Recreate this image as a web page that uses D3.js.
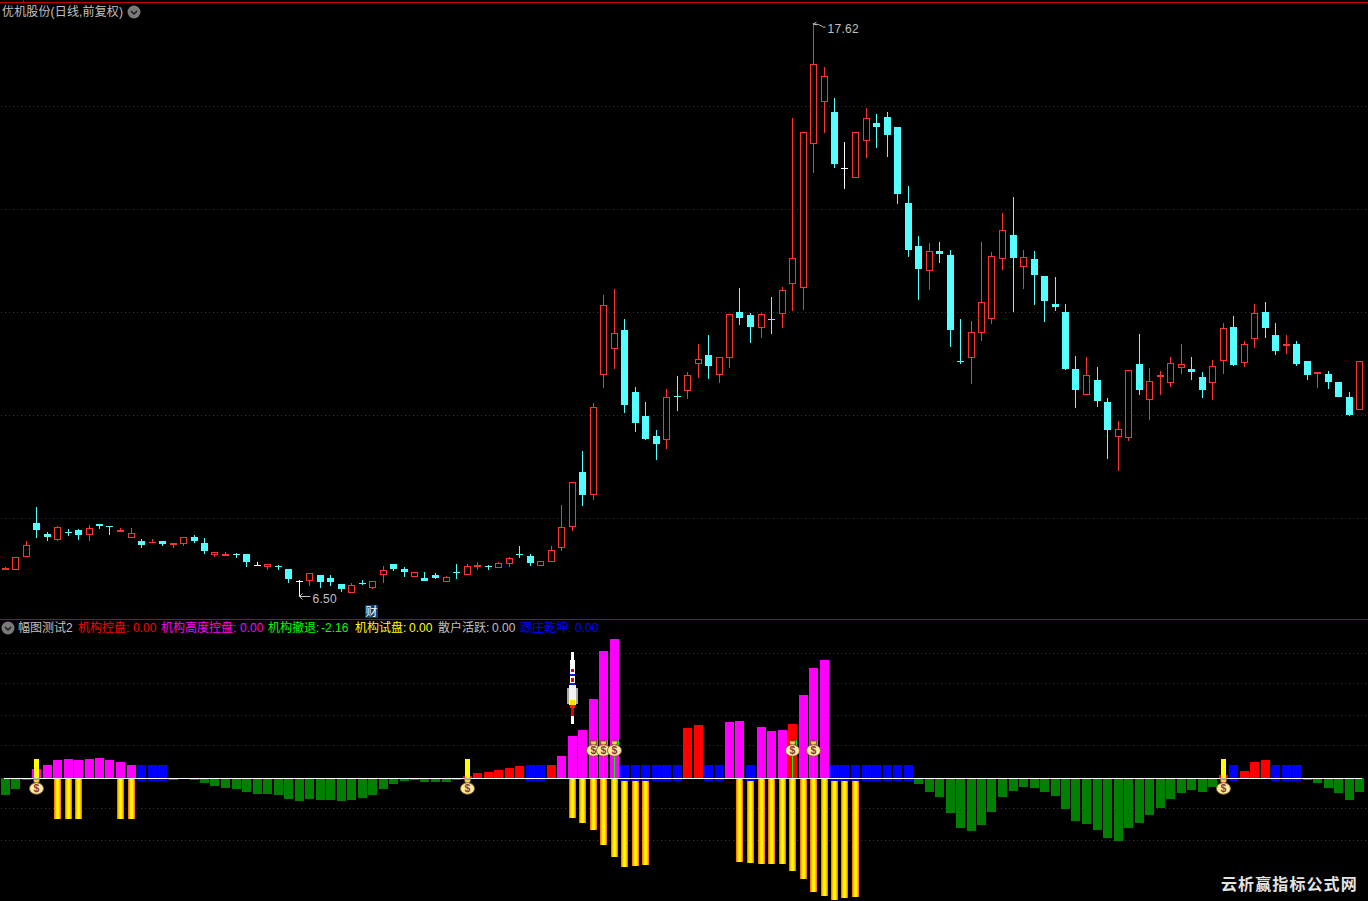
<!DOCTYPE html>
<html lang="zh">
<head>
<meta charset="utf-8">
<title>优机股份</title>
<script src="https://cdn.jsdelivr.net/npm/d3@7"></script>
<style>
html,body{margin:0;padding:0;background:#000;overflow:hidden}
svg{display:block}
text{font-family:"Liberation Sans","Noto Sans CJK SC",sans-serif;font-size:12px}
</style>
</head>
<body>
<div id="chart"></div>
<script>
// ---------- price data ----------
const opens=[7.01,7.01,7.27,7.92,7.71,7.60,7.76,7.79,7.69,7.91,
7.87,7.75,7.64,7.58,7.54,7.58,7.50,7.52,7.65,7.54,
7.30,7.28,7.33,7.32,7.11,7.07,7.10,7.03,6.80,6.80,
6.92,6.86,6.74,6.57,6.77,6.67,6.92,7.13,7.03,6.88,
6.86,6.92,6.78,6.97,6.92,7.07,7.10,7.05,7.13,7.33,
7.28,7.09,7.17,7.44,7.85,8.91,8.47,10.80,11.30,11.67,
10.46,10.00,9.61,9.53,10.38,10.48,11.01,11.18,10.80,11.13,
12.01,11.96,11.71,11.89,11.98,12.56,12.48,15.27,16.09,15.89,
14.81,14.61,15.33,15.68,15.80,15.60,14.13,13.30,12.81,13.20,
13.12,11.06,11.13,11.61,11.88,13.04,13.51,12.89,13.04,12.72,
12.17,12.01,10.91,10.41,10.70,10.27,9.59,9.57,11.01,10.31,
10.76,10.64,10.93,10.91,10.76,10.64,11.07,11.73,11.03,11.49,
12.01,11.57,11.36,11.40,11.07,10.82,10.82,10.66,10.37,10.12];
const closes=[7.05,7.27,7.50,7.79,7.65,7.85,7.75,7.69,7.83,7.87,
7.85,7.79,7.73,7.50,7.55,7.52,7.54,7.65,7.58,7.38,
7.36,7.32,7.32,7.17,7.11,7.13,7.09,6.84,6.80,6.96,
6.78,6.78,6.65,6.72,6.76,6.80,7.01,7.03,6.98,6.98,
6.80,6.86,6.88,6.96,7.09,7.11,7.09,7.15,7.25,7.32,
7.15,7.19,7.40,7.85,8.72,8.47,10.18,12.15,11.61,10.21,
9.86,9.55,9.46,10.37,10.37,10.80,11.11,10.97,11.15,11.97,
11.90,11.73,11.98,11.88,12.44,13.06,15.50,16.83,16.59,14.88,
14.81,15.50,15.78,15.60,15.45,14.30,13.22,12.85,13.20,13.14,
11.67,11.05,11.63,12.21,13.10,13.60,13.06,13.08,12.73,12.23,
12.11,10.91,10.50,10.80,10.29,9.73,9.75,10.89,10.50,10.68,
10.80,11.03,11.01,10.85,10.50,10.97,11.71,10.99,11.40,12.00,
11.70,11.26,11.40,11.01,10.80,10.86,10.66,10.37,10.02,11.07];
const highs=[7.07,7.27,7.58,8.24,7.75,7.87,7.81,7.81,7.89,7.91,
7.87,7.83,7.83,7.62,7.62,7.58,7.54,7.65,7.69,7.64,
7.36,7.36,7.34,7.32,7.17,7.13,7.11,7.03,6.82,6.96,
6.92,6.92,6.74,6.76,6.82,6.80,7.09,7.13,7.07,6.98,
6.98,6.96,6.90,7.13,7.13,7.17,7.11,7.17,7.27,7.48,
7.32,7.19,7.48,8.27,8.72,9.32,10.25,12.34,12.46,11.88,
10.56,10.27,9.73,10.52,10.78,10.86,11.40,11.57,11.15,11.97,
12.48,12.00,12.00,12.31,12.50,15.78,15.50,17.62,16.77,16.17,
15.31,15.50,15.97,15.86,15.90,15.60,14.46,13.49,13.35,13.37,
13.22,11.88,11.84,13.37,13.18,13.93,14.25,13.22,13.20,12.72,
12.70,12.17,11.17,11.15,10.95,10.35,9.90,10.89,11.59,10.93,
10.87,11.15,11.40,11.15,10.85,11.09,11.80,11.94,11.45,12.17,
12.21,11.80,11.57,11.45,11.07,10.86,10.87,10.66,10.46,11.07];
const lows=[7.01,7.01,7.27,7.64,7.58,7.58,7.67,7.60,7.58,7.81,
7.69,7.75,7.64,7.44,7.54,7.48,7.44,7.48,7.54,7.32,
7.27,7.28,7.25,7.07,7.09,7.01,7.01,6.76,6.50,6.71,
6.67,6.71,6.59,6.57,6.72,6.65,6.76,6.99,6.88,6.88,
6.80,6.84,6.78,6.84,6.92,7.01,7.01,7.05,7.07,7.25,
7.09,7.09,7.17,7.38,7.77,8.25,8.37,10.54,10.91,10.06,
9.69,9.53,9.15,9.36,10.10,10.33,10.74,10.72,10.64,10.93,
11.77,11.41,11.51,11.59,11.70,12.03,12.05,14.71,15.48,14.81,
14.40,14.61,15.00,15.19,15.02,14.11,13.08,12.25,12.44,12.97,
11.34,11.01,10.62,11.45,11.78,12.83,12.01,12.46,12.15,11.82,
12.03,10.89,10.15,10.41,10.17,9.17,8.93,9.51,10.41,9.92,
10.41,10.56,10.82,10.70,10.35,10.31,10.82,10.97,10.95,11.32,
11.51,11.19,11.21,10.97,10.70,10.54,10.52,10.37,10.00,10.12];
const priceGrid=[16,14,12,10,8];

// ---------- indicator data ----------
const greenVals=[-2.62,-1.70,-0.31,0,0,0,0,0,0,0,
0,0,0,0,0,0,-0.31,0,-0.31,-0.77,
-1.23,-1.54,-1.70,-2.16,-2.47,-2.47,-2.62,-3.24,-3.55,-3.24,
-3.40,-3.40,-3.55,-3.40,-3.09,-2.62,-1.70,-0.93,-0.46,-0.31,
-0.62,-0.62,-0.62,-0.31,0,0,0,0,0,0,
0,0,0,0,0,0,0,0,0,0,
0,0,0,0,0,0,0,0,0,0,
0,0,0,0,0,0,0,0,0,0,
0,0,0,0,0,0,0,-0.93,-2.16,-2.93,
-5.40,-7.72,-8.18,-7.25,-5.25,-2.93,-2.01,-1.39,-1.54,-2.16,
-2.78,-4.78,-6.64,-7.10,-8.02,-9.26,-9.72,-7.72,-6.94,-5.71,
-4.63,-3.24,-2.31,-1.85,-2.16,-1.39,0,0,0,0,
0,0,0,0,-0.31,-0.77,-1.54,-2.31,-3.40,-2.16];
const magentaAt=[3,4,5,6,7,8,9,10,11,12,53,54,55,56,57,58,69,70,72,73,74,76,77,78];
const magentaVals=[1.39,2.01,2.78,2.93,2.78,2.93,3.09,2.78,2.47,2.01,3.40,6.48,7.41,12.19,19.60,21.45,8.64,8.80,7.87,7.25,7.41,12.81,16.98,18.21];
const redAt=[44,45,46,47,48,49,52,65,66,75,116,118,119,120];
const redVals=[0.31,0.77,0.93,1.23,1.54,1.85,2.01,7.72,8.18,8.33,0.46,1.08,2.47,2.78];
const yellowAt=[3,44,116];
const yellowVals=[2.93,2.93,2.93];
const blueAt=[13,14,15,50,51,59,60,61,62,63,64,67,68,71,79,80,81,82,83,84,85,86,117,121,122,123];
const blueUp=2.01, blueDown=-0.46;
const orangeAt=[5,6,7,11,12,54,55,56,57,58,59,60,61,70,71,72,73,74,75,76,77,78,79,80,81];
const orangeVals=[-6.33,-6.33,-6.33,-6.33,-6.33,-6.17,-6.94,-8.02,-10.34,-12.19,-13.73,-13.58,-13.43,-12.96,-13.12,-13.27,-13.27,-13.27,-14.35,-15.59,-17.59,-18.21,-18.83,-18.52,-18.36];
const bagAt=[3,44,116,56,57,58,75,77];
const bagVals=[-1.39,-1.39,-1.39,4.48,4.48,4.48,4.48,4.48];
const stemAt=[56,57,58,75,77];
const stemOpacity=[0.45,0.45,1,1,0.6];
const rocketAt=54, rocketVal=8.33;
const lowerGrid=[19.29,14.51,9.72,4.94,-4.78,-9.57];

// ---------- text ----------
const titleText="优机股份(日线,前复权)";
const indicatorName="幅图测试2";
const legendNames=["机构控盘:","机构高度控盘:","机构撤退:","机构试盘:","散户活跃:","跟庄乾坤:"];
const legendVals=["0.00","0.00","-2.16","0.00","0.00","0.00"];
const legendColors=["#ff0000","#ff00ff","#00ff00","#ffff00","#c0c0c0","#0000ff"];
const watermark="云析赢指标公式网";

// ---------- layout ----------
const W=1368,H=901;
const legendX=[78,161,268,355,438,520];
const legendValX=[133,240,321,409,492,575];
const x=d3.scaleLinear().domain([0,129]).range([4.5,1359]);
const y=d3.scaleLinear().domain([6.5,17.62]).range([596.5,23]);
const yl=d3.scaleLinear().domain([0,10]).range([778,713.2]);
const col=i=>Math.round(x(i));
const RED="#ff3232",CYAN="#54ffff";

const svg=d3.select("#chart").append("svg").attr("width",W).attr("height",H).attr("viewBox",`0 0 ${W} ${H}`);
const defs=svg.append("defs");
const grad=defs.append("linearGradient").attr("id","stick").attr("x1","0").attr("x2","1").attr("y1","0").attr("y2","0");
[[0,"#ff7a00"],[.14,"#ff7a00"],[.14,"#ffc000"],[.28,"#ffc000"],[.28,"#ffee00"],[.42,"#ffee00"],[.42,"#ffff00"],[.58,"#ffff00"],[.58,"#ffee00"],[.72,"#ffee00"],[.72,"#ffc000"],[.86,"#ffc000"],[.86,"#ff7a00"],[1,"#ff7a00"]]
 .forEach(s=>grad.append("stop").attr("offset",s[0]).attr("stop-color",s[1]));

const crisp=svg.append("g").attr("shape-rendering","crispEdges");
// frame lines
crisp.append("rect").attr("x",0).attr("y",2).attr("width",W).attr("height",1).attr("fill","#c00000");
crisp.append("rect").attr("x",23).attr("y",0).attr("width",1).attr("height",2).attr("fill","#c00000");
crisp.append("rect").attr("x",0).attr("y",619).attr("width",W).attr("height",1).attr("fill","#c00000");

// grids
const dotted=(g,rows)=>g.selectAll("line.grid").data(rows).join("line").attr("class","grid")
 .attr("x1",1).attr("x2",1366).attr("y1",d=>d+.5).attr("y2",d=>d+.5)
 .attr("stroke","#b00000").attr("stroke-width",1).attr("stroke-dasharray","1 3");
dotted(crisp.append("g"),priceGrid.map(p=>Math.floor(y(p)-.5)));
dotted(crisp.append("g"),lowerGrid.map(v=>Math.floor(yl(v))));

// candles
const candles=d3.range(opens.length).map(i=>({i,o:opens[i],c:closes[i],h:highs[i],l:lows[i]}));
const cg=crisp.append("g");
candles.forEach(d=>{
  const cx=col(d.i),colr=d.c>d.o?RED:d.c<d.o?CYAN:"#ffffff";
  const top=Math.round(y(Math.max(d.o,d.c))),bot=Math.round(y(Math.min(d.o,d.c)));
  const hi=Math.round(y(d.h)),lo=Math.round(y(d.l));
  const g=cg.append("g");
  if(bot-top<=1){
    g.append("rect").attr("x",cx).attr("y",hi).attr("width",1).attr("height",Math.max(1,lo-hi)).attr("fill",colr);
    g.append("rect").attr("x",cx-3).attr("y",top).attr("width",7).attr("height",1).attr("fill",colr);
    return;
  }
  if(hi<top) g.append("rect").attr("x",cx).attr("y",hi).attr("width",1).attr("height",top-hi).attr("fill",colr);
  if(lo>bot) g.append("rect").attr("x",cx).attr("y",bot).attr("width",1).attr("height",lo-bot).attr("fill",colr);
  if(d.c>d.o){
    g.append("rect").attr("x",cx-2.5).attr("y",top+.5).attr("width",6).attr("height",Math.max(1,bot-top-1))
     .attr("fill","#000").attr("stroke",colr).attr("stroke-width",1);
  }else{
    g.append("rect").attr("x",cx-3).attr("y",top).attr("width",7).attr("height",bot-top).attr("fill",colr);
  }
});

// indicator bars
const lg=crisp.append("g");
const bar=(i,v,w,fill)=>{
  const a=Math.round(yl(Math.max(v,0))),b=Math.round(yl(Math.min(v,0)));
  lg.append("rect").attr("x",col(i)-Math.floor(w/2)).attr("y",a).attr("width",w).attr("height",Math.max(b-a,0)).attr("fill",fill);
};
greenVals.forEach((v,i)=>{if(v)bar(i,v,9,"#008000");});
magentaAt.forEach((i,k)=>bar(i,magentaVals[k],9,"#ff00ff"));
redAt.forEach((i,k)=>bar(i,redVals[k],9,"#ff0000"));
orangeAt.forEach((i,k)=>bar(i,orangeVals[k],7,"url(#stick)"));
blueAt.forEach(i=>{bar(i,blueUp,9,"#0000ff");bar(i,blueDown,9,"#0000ff");});
yellowAt.forEach((i,k)=>bar(i,yellowVals[k],5,"#ffff00"));
// stems under raised bags
stemAt.forEach((i,k)=>{
  lg.append("rect").attr("x",col(i)).attr("y",yl(4.48)).attr("width",1).attr("height",yl(0)-yl(4.48)).attr("fill","#00ff00").attr("opacity",stemOpacity[k]);
  lg.append("rect").attr("x",col(i)+4).attr("y",yl(5.9)).attr("width",1).attr("height",5).attr("fill","#00ff00");
});
// zero line
lg.append("rect").attr("x",4).attr("y",yl(0)).attr("width",1358).attr("height",1).attr("fill","#ffffff");

// rocket
const rk=crisp.append("g").attr("transform",`translate(${col(rocketAt)},${yl(rocketVal)})`);
[[-1,-72,3,8,"#ffffff"],[-2,-64,5,27,"#ffffff"],[-1,-55,3,3,"#e00000"],[-2,-50,5,2,"#1020d0"],[-1,-46,3,4,"#e00000"],[-2,-41,5,2,"#1020d0"],
 [-5,-36,11,16,"#a8a8a8"],[-3,-39,7,20,"#f4f4f4"],[-2,-24,5,5,"#ffe000"],[-2,-19,5,3,"#ff2000"],[-1,-16,3,8,"#e80000"],[-1,-8,3,8,"#ffffff"]]
 .forEach(r=>rk.append("rect").attr("x",r[0]).attr("y",r[1]).attr("width",r[2]).attr("height",r[3]).attr("fill",r[4]));

// money bags
const bags=svg.append("g");
bagAt.forEach((i,k)=>{
  const g=bags.append("g").attr("transform",`translate(${col(i)+.5},${yl(bagVals[k])})`);
  g.append("path").attr("d","M-3.5,-8 L3.5,-8 L2,-3.5 L-2,-3.5 Z").attr("fill","#f0d060").attr("stroke","#6a4a18").attr("stroke-width",.8);
  g.append("ellipse").attr("cx",0).attr("cy",1.5).attr("rx",7).attr("ry",5.8).attr("fill","#ffeea0").attr("stroke","#8a6020").attr("stroke-width",1);
  g.append("text").attr("x",0).attr("y",5.3).attr("text-anchor","middle").attr("fill","#8a3a3a").attr("font-weight","700").style("font-size","10.5px").text("$");
});

// headings
const icon=(cx,cy)=>{
  svg.append("circle").attr("cx",cx).attr("cy",cy).attr("r",6.5).attr("fill","#7a7a7a");
  svg.append("path").attr("d",`M${cx-3},${cy-1} L${cx},${cy+2} L${cx+3},${cy-1}`).attr("fill","none").attr("stroke","#1a1a1a").attr("stroke-width",1.5);
};
svg.append("text").attr("x",2).attr("y",16).attr("fill","#c0c0c0").style("letter-spacing","0.15px").text(titleText);
icon(134,12);
icon(8,628);
svg.append("text").attr("x",18).attr("y",632).attr("fill","#c0c0c0").text(indicatorName);
legendNames.forEach((n,k)=>{
  svg.append("text").attr("x",legendX[k]).attr("y",632).attr("fill",legendColors[k]).text(n);
  svg.append("text").attr("x",legendValX[k]).attr("y",632).attr("fill",legendColors[k]).text(legendVals[k]);
});

// high / low labels
const hiI=highs.indexOf(d3.max(highs)),loI=lows.indexOf(d3.min(lows));
const hx=col(hiI)+.5,hy=y(highs[hiI]);
svg.append("path").attr("d",`M${hx+3},${hy-1} L${hx},${hy+1} L${hx+3},${hy+2} M${hx},${hy+1} Q${hx+6},${hy+1} ${hx+8},${hy+3} T${hx+12},${hy+4}`).attr("fill","none").attr("stroke","#c0c0c0");
svg.append("text").attr("x",hx+14).attr("y",hy+10).attr("fill","#c0c0c0").style("letter-spacing","0.3px").text(d3.format(".2f")(highs[hiI]));
const lx=col(loI)+.5,ly=y(lows[loI]);
svg.append("path").attr("d",`M${lx+3},${ly-3} L${lx},${ly} L${lx+3},${ly+3} M${lx},${ly} L${lx+11},${ly}`).attr("fill","none").attr("stroke","#c0c0c0");
svg.append("text").attr("x",lx+13).attr("y",ly+6).attr("fill","#c0c0c0").style("letter-spacing","0.3px").text(d3.format(".2f")(lows[loI]));

// 财 badge
const caiX=col(35);
crisp.append("rect").attr("x",caiX-7).attr("y",605).attr("width",13).attr("height",13).attr("fill","#0f3d70");
svg.append("text").attr("x",caiX-6.5).attr("y",616).attr("fill","#ffffff").text("财");

// watermark
svg.append("text").attr("x",1221).attr("y",890).attr("fill","#e4e4e4").attr("font-weight","700")
 .style("font-family",'"Noto Sans CJK SC",sans-serif').style("font-size","16px").style("letter-spacing","1.1px").text(watermark);
</script>
</body>
</html>
